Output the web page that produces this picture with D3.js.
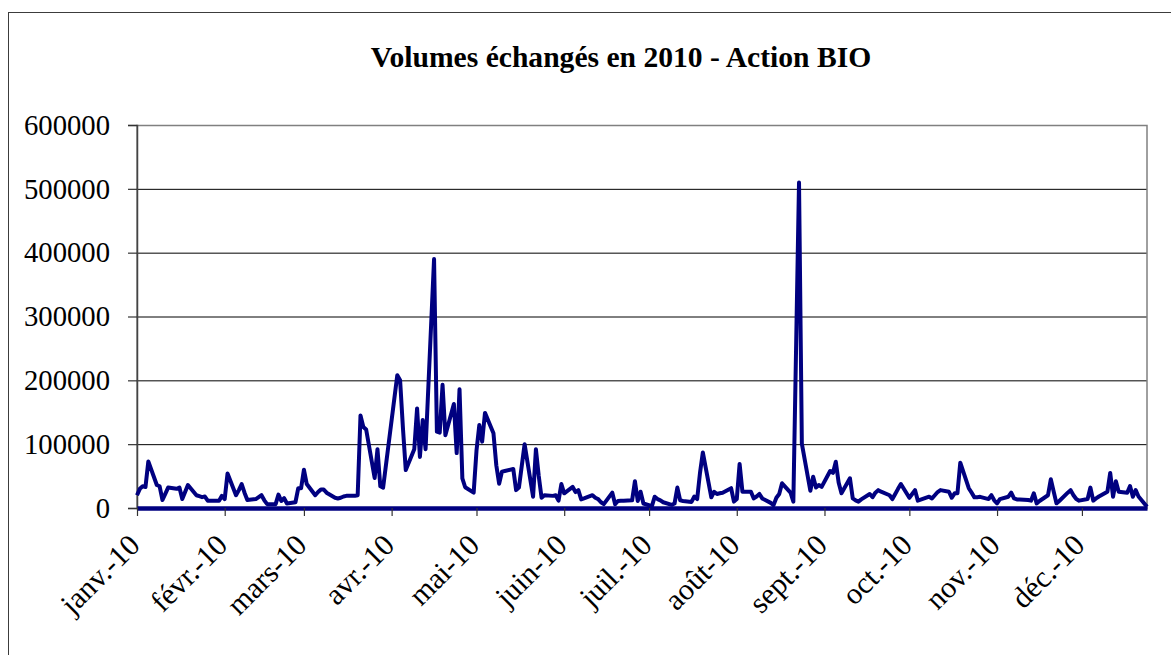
<!DOCTYPE html>
<html>
<head>
<meta charset="utf-8">
<script src="https://cdn.jsdelivr.net/npm/d3@7"></script>
<style>
  body { margin: 0; background: #fff; }
</style>
</head>
<body>
<div class="svg-container"></div>
<script>
// daily traded volumes, one array per month (trading days only)
const jan = [20000, 30000, 34000, 33000, 73000, 36000, 34000, 12500, 22000, 32000, 30000, 32000, 14000, 25000, 36000, 20000, 18500, 17000, 18000, 11500];
const feb = [11500, 11500, 19000, 14000, 54000, 20000, 28000, 37500, 24000, 12500, 14000, 17000, 20000, 12000, 6000, 6000, 21000, 11000, 15500, 7000];
const mar = [9000, 31000, 31000, 60000, 37500, 20000, 25000, 29000, 29000, 24000, 16000, 15000, 16000, 18000, 19000, 19000, 20000, 145000, 127000, 123000, 47000, 92000, 34000];
const apr = [32000, 208000, 200000, 125000, 59500, 92000, 156000, 80000, 138000, 92000, 390000, 119500, 118000, 193000, 114000, 163000, 86000, 186000, 46500, 32500];
const may = [24000, 90000, 130000, 104000, 149000, 117000, 67000, 38000, 57000, 58000, 61000, 28000, 32000, 66000, 100000, 17700, 92000, 50000, 16000, 20000, 19000];
const jun = [20000, 11500, 37500, 23000, 33000, 25000, 28000, 13500, 15000, 20000, 16000, 14000, 9000, 6000, 24000, 6000, 11000, 11500, 11500, 12000, 42000, 11000];
const jul = [25500, 7000, 3000, 17700, 14000, 12000, 9000, 5000, 7000, 32000, 12000, 11000, 9500, 18000, 14000, 55000, 87000, 16700, 25500, 22000, 23000, 24000];
const aug = [31000, 10000, 14000, 69000, 25500, 25500, 15000, 18000, 22000, 15000, 8000, 4500, 16000, 22000, 38700, 24000, 10000, 260000, 510000, 101000, 27000, 49000];
const sep = [32000, 36000, 33000, 58000, 55000, 72500, 40000, 23000, 46500, 15000, 12000, 10000, 13500, 22000, 17000, 24000, 28000, 25500, 20000, 14000, 22000, 30000];
const oct = [37500, 16000, 22000, 28000, 11500, 13000, 17700, 15000, 20000, 25000, 28000, 25500, 16000, 23000, 23000, 71000, 31000, 24000, 16700, 17000, 17500];
const nov = [14000, 20000, 12000, 7300, 14000, 17700, 24000, 15000, 13500, 13500, 12500, 11500, 23000, 7300, 11000, 20000, 45000, 26000, 7300, 11000, 24000, 28000];
const dec = [20000, 14000, 11500, 14000, 32000, 11500, 15000, 18000, 25500, 55000, 17700, 42000, 25500, 24000, 34500, 17700, 28000, 18000, 2000];

const monthLabels = ["janv.-10", "févr.-10", "mars-10", "avr.-10", "mai-10", "juin-10", "juil.-10", "août-10", "sept.-10", "oct.-10", "nov.-10", "déc.-10"];
const closedDays = ["2010-01-01", "2010-04-02", "2010-04-05"];
const yTicks = [0, 100000, 200000, 300000, 400000, 500000, 600000];

const width = 1171;
const height = 655;
const margin = { left: 137, right: 1147, top: 125, bottom: 508 };
const serif = "Liberation Serif";

// attach each value to its trading day
const fmt = d3.timeFormat("%Y-%m-%d");
let data = [];
[jan, feb, mar, apr, may, jun, jul, aug, sep, oct, nov, dec].forEach(function (vals, m) {
    let day = 1, k = 0;
    while (k < vals.length) {
        let d = new Date(2010, m, day);
        if (d.getDay() !== 0 && d.getDay() !== 6 && closedDays.indexOf(fmt(d)) < 0) {
            data.push({ date: d, v: vals[k] });
            k++;
        }
        day++;
    }
});

let svg = d3.select(".svg-container")
    .append("svg")
    .attr("width", width)
    .attr("height", height);

// outer chart border
svg.append("rect")
    .attr("x", 8.5).attr("y", 12.5)
    .attr("width", 1200).attr("height", 700)
    .attr("fill", "none").attr("stroke", "#3c3c3c");

svg.append("text")
    .attr("x", 621).attr("y", 66.5)
    .attr("text-anchor", "middle")
    .style("font-family", serif)
    .style("font-size", "29.6px").style("font-weight", "bold")
    .text("Volumes échangés en 2010 - Action BIO");

let x = d3.scaleTime()
    .domain([data[0].date, data[data.length - 1].date])
    .range([margin.left, margin.right]);
let y = d3.scaleLinear()
    .domain([0, 600000])
    .range([margin.bottom, margin.top]);

// grid lines
svg.append("g").selectAll("line")
    .data(yTicks.slice(1, -1))
    .enter().append("line")
    .attr("x1", margin.left).attr("x2", margin.right)
    .attr("y1", d => y(d) + 0.5).attr("y2", d => y(d) + 0.5)
    .attr("stroke", "#000").attr("stroke-width", 1);

// plot area frame
svg.append("rect")
    .attr("x", margin.left).attr("y", margin.top + 0.5)
    .attr("width", margin.right - margin.left).attr("height", margin.bottom - margin.top)
    .attr("fill", "none").attr("stroke", "#808080").attr("stroke-width", 1.5);

// y axis
let yAxis = svg.append("g")
    .attr("transform", "translate(" + margin.left + ",0)")
    .call(d3.axisLeft(y).tickValues(yTicks).tickSize(9).tickPadding(18).tickFormat(d3.format("d")));
yAxis.select(".domain").attr("stroke", "#444").attr("stroke-width", 1.5);
yAxis.selectAll(".tick line").attr("stroke", "#333").attr("stroke-width", 1.2);
yAxis.selectAll("text")
    .style("font-family", serif)
    .style("font-size", "28.7px").attr("fill", "#000");

// x axis, ticks each month from the first trading day
let tickDates = monthLabels.map((l, i) => new Date(2010, i, 4));
let xAxis = svg.append("g")
    .attr("transform", "translate(0," + margin.bottom + ")")
    .call(d3.axisBottom(x).tickValues(tickDates).tickSize(8).tickSizeOuter(0)
        .tickFormat((d, i) => monthLabels[i]));
xAxis.select(".domain").attr("stroke", "#000080").attr("stroke-width", 4.5);
xAxis.selectAll(".tick line").attr("stroke", "#333").attr("stroke-width", 1.2);
xAxis.selectAll("text")
    .style("font-family", serif)
    .style("font-size", "30px").attr("fill", "#000")
    .attr("x", 0).attr("y", 0).attr("dy", 0)
    .attr("text-anchor", "end")
    .attr("transform", "translate(4,39) rotate(-45)");

// volume line
let line = d3.line()
    .x(d => x(d.date))
    .y(d => y(d.v));
svg.append("path")
    .datum(data)
    .attr("d", line)
    .attr("fill", "none")
    .attr("stroke", "#000080")
    .attr("stroke-width", 4)
    .attr("stroke-linejoin", "round");
</script>
</body>
</html>
